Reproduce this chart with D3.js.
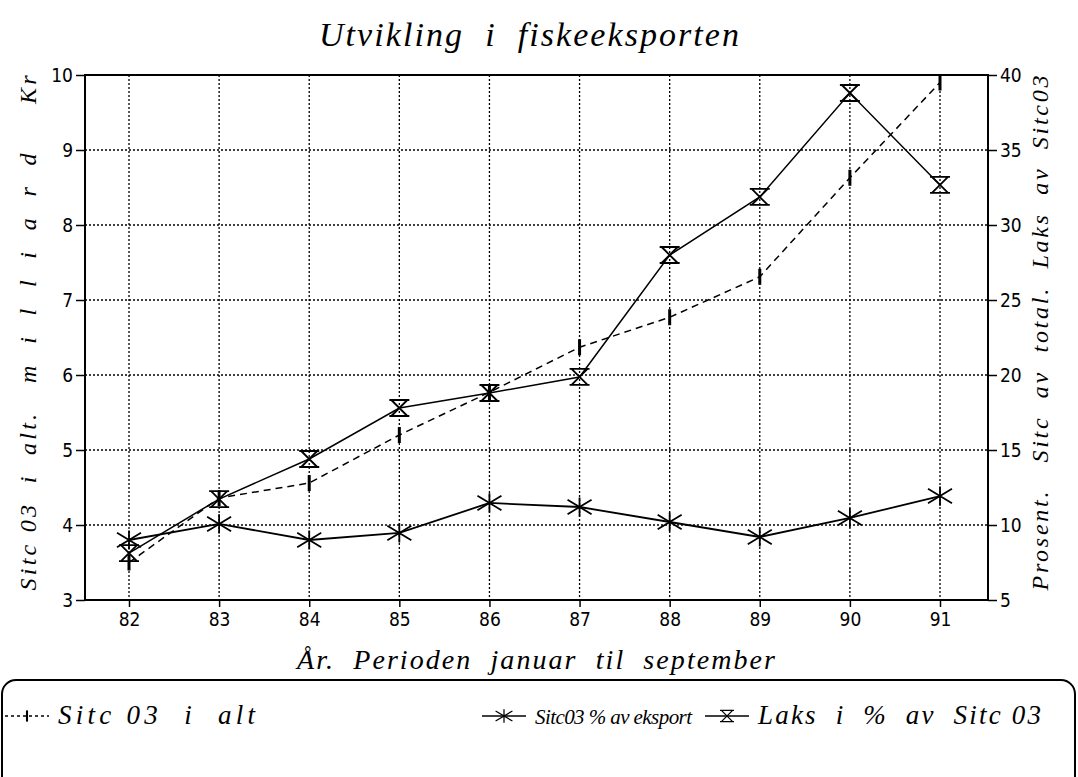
<!DOCTYPE html>
<html>
<head>
<meta charset="utf-8">
<script src="https://cdn.jsdelivr.net/npm/d3@7"></script>
<style>
  body { margin: 0; background: #fff; }
  svg text { white-space: pre; }
</style>
</head>
<body>
<svg id="chart" width="1078" height="777"></svg>
<script>
// chart data
const years = ["82", "83", "84", "85", "86", "87", "88", "89", "90", "91"];
const sitcTotal = [3.5, 4.36, 4.56, 5.2, 5.77, 6.37, 6.77, 7.31, 8.63, 9.9];      // milliard kr, left axis
const sitcShare = [9.0, 10.07, 9.0, 9.47, 11.47, 11.2, 10.2, 9.2, 10.47, 11.93];  // % av eksport, right axis
const laksShare = [8.13, 11.73, 14.4, 17.8, 18.8, 19.87, 28.0, 31.87, 38.8, 32.67]; // % av Sitc 03, right axis
const leftTicks = [3, 4, 5, 6, 7, 8, 9, 10];
const rightTicks = [5, 10, 15, 20, 25, 30, 35, 40];

const svg = d3.select("#chart");

// plot frame
const plotLeft = 85, plotRight = 988, plotTop = 75, plotBottom = 600;
const scriptFont = "'Liberation Serif', 'DejaVu Serif', serif";
const tickFont = "'Liberation Sans Narrow', 'DejaVu Sans Condensed', sans-serif";

const x = d3.scalePoint().domain(years).range([129, 940]);
const yL = d3.scaleLinear().domain([3, 10]).range([plotBottom, plotTop]);
const yR = d3.scaleLinear().domain([5, 40]).range([plotBottom, plotTop]);

// grid lines (dotted)
const grid = svg.append("g")
    .attr("stroke", "#000")
    .attr("stroke-width", 1.3)
    .attr("stroke-dasharray", "2,2");
grid.selectAll("line.h")
    .data(leftTicks.slice(1, -1))
    .join("line")
    .attr("class", "h")
    .attr("x1", plotLeft).attr("x2", plotRight)
    .attr("y1", d => yL(d)).attr("y2", d => yL(d));
grid.selectAll("line.v")
    .data(years)
    .join("line")
    .attr("class", "v")
    .attr("x1", d => x(d)).attr("x2", d => x(d))
    .attr("y1", plotTop).attr("y2", plotBottom);

// axes
const axisStyle = g => {
    g.select(".domain").remove();
    g.selectAll(".tick line").attr("stroke", "#000").attr("stroke-width", 1.5);
    g.selectAll(".tick text")
        .attr("font-family", tickFont)
        .attr("font-size", 19)
        .attr("fill", "#000");
};

svg.append("g")
    .attr("transform", `translate(${plotLeft},0)`)
    .call(d3.axisLeft(yL).tickValues(leftTicks).tickFormat(d3.format("d")).tickSize(9).tickPadding(3))
    .call(axisStyle);

svg.append("g")
    .attr("transform", `translate(${plotRight},0)`)
    .call(d3.axisRight(yR).tickValues(rightTicks).tickFormat(d3.format("d")).tickSize(9).tickPadding(3))
    .call(axisStyle);

svg.append("g")
    .attr("transform", `translate(0,${plotBottom})`)
    .call(d3.axisBottom(x).tickSize(7).tickPadding(6))
    .call(axisStyle);

// frame
svg.append("rect")
    .attr("x", plotLeft).attr("y", plotTop)
    .attr("width", plotRight - plotLeft).attr("height", plotBottom - plotTop)
    .attr("fill", "none")
    .attr("stroke", "#000")
    .attr("stroke-width", 2);

// series lines
const lineL = d3.line().x((d, i) => x(years[i])).y(d => yL(d));
const lineR = d3.line().x((d, i) => x(years[i])).y(d => yR(d));

svg.append("path")
    .attr("d", lineL(sitcTotal))
    .attr("fill", "none").attr("stroke", "#000")
    .attr("stroke-width", 1.5)
    .attr("stroke-dasharray", "7,5");

svg.append("path")
    .attr("d", lineR(sitcShare))
    .attr("fill", "none").attr("stroke", "#000")
    .attr("stroke-width", 1.8);

svg.append("path")
    .attr("d", lineR(laksShare))
    .attr("fill", "none").attr("stroke", "#000")
    .attr("stroke-width", 1.5);

// marker shapes
function plusMark(g) {
    g.append("line").attr("x1", 0).attr("x2", 0).attr("y1", -8).attr("y2", 8)
        .attr("stroke", "#000").attr("stroke-width", 3);
}
function starMark(g) {
    const r = 12;
    g.append("path")
        .attr("d", `M0,${-r * 0.8}V${r * 0.8}M${-r},${-r * 0.6}L${r},${r * 0.6}M${-r},${r * 0.6}L${r},${-r * 0.6}`)
        .attr("stroke", "#000").attr("stroke-width", 1.8).attr("fill", "none");
}
function glassMark(g) {
    const w = 10, h = 8;
    g.append("path")
        .attr("d", `M${-w},${-h}H${w}M${-w},${h}H${w}M${-w + 2},${-h}L${w - 2},${h}M${w - 2},${-h}L${-w + 2},${h}`)
        .attr("stroke", "#000").attr("stroke-width", 1.8).attr("fill", "none");
}

svg.append("g").selectAll("g")
    .data(sitcTotal)
    .join("g")
    .attr("transform", (d, i) => `translate(${x(years[i])},${yL(d)})`)
    .each(function() { plusMark(d3.select(this)); });

svg.append("g").selectAll("g")
    .data(sitcShare)
    .join("g")
    .attr("transform", (d, i) => `translate(${x(years[i])},${yR(d)})`)
    .each(function() { starMark(d3.select(this)); });

svg.append("g").selectAll("g")
    .data(laksShare)
    .join("g")
    .attr("transform", (d, i) => `translate(${x(years[i])},${yR(d)})`)
    .each(function() { glassMark(d3.select(this)); });

// titles
svg.append("text")
    .attr("x", 529).attr("y", 46)
    .attr("text-anchor", "middle")
    .attr("font-family", scriptFont)
    .attr("font-style", "italic")
    .attr("font-size", 34)
    .attr("textLength", 420)
    .text("Utvikling  i  fiskeeksporten");

svg.append("text")
    .attr("transform", "translate(36,333) rotate(-90)")
    .attr("text-anchor", "middle")
    .attr("font-family", scriptFont)
    .attr("font-style", "italic")
    .attr("font-size", 24)
    .attr("textLength", 515)
    .text("Sitc 03  i  alt.   m  i  l  l  i  a  r  d     Kr");

svg.append("text")
    .attr("transform", "translate(1048,333) rotate(-90)")
    .attr("text-anchor", "middle")
    .attr("font-family", scriptFont)
    .attr("font-style", "italic")
    .attr("font-size", 24)
    .attr("textLength", 515)
    .text("Prosent.   Sitc  av  total.  Laks  av  Sitc03");

svg.append("text")
    .attr("x", 536).attr("y", 669)
    .attr("text-anchor", "middle")
    .attr("font-family", scriptFont)
    .attr("font-style", "italic")
    .attr("font-size", 28)
    .attr("textLength", 478)
    .text("År.  Perioden  januar  til  september");

// legend
svg.append("rect")
    .attr("x", 2).attr("y", 680)
    .attr("width", 1073).attr("height", 130)
    .attr("rx", 14)
    .attr("fill", "none").attr("stroke", "#000").attr("stroke-width", 2);

const legendItems = [
    { label: "Sitc 03  i  alt", x0: 5, dash: "3,3", mark: plusMark, len: 197, size: 27 },
    { label: "Sitc03 % av eksport", x0: 482, dash: null, mark: starMark, len: 157, size: 21 },
    { label: "Laks  i  %  av  Sitc 03", x0: 705, dash: null, mark: glassMark, len: 283, size: 27 }
];
const ly = 716;
const leg = svg.append("g").selectAll("g")
    .data(legendItems)
    .join("g")
    .attr("transform", d => `translate(${d.x0},${ly})`);
leg.append("line")
    .attr("x1", 0).attr("x2", 44).attr("y1", 0).attr("y2", 0)
    .attr("stroke", "#000").attr("stroke-width", 1.5)
    .attr("stroke-dasharray", d => d.dash);
leg.append("g")
    .attr("transform", "translate(22,0) scale(0.7)")
    .each(function(d) { d.mark(d3.select(this)); });
leg.append("text")
    .attr("x", 53).attr("y", 8)
    .attr("font-family", scriptFont)
    .attr("font-style", "italic")
    .attr("font-size", d => d.size)
    .attr("textLength", d => d.len)
    .attr("lengthAdjust", "spacing")
    .text(d => d.label);
</script>
</body>
</html>
